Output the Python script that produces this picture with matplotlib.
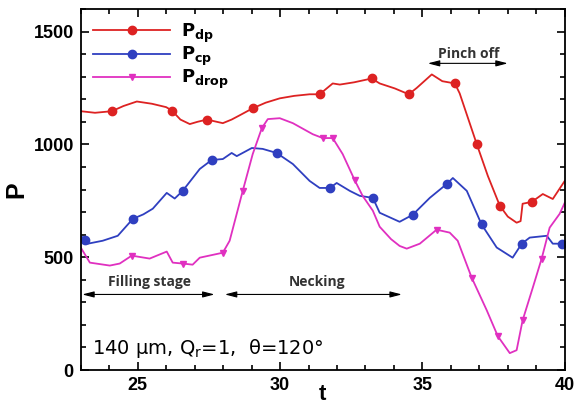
import matplotlib
matplotlib.use("Agg")
import matplotlib.pyplot as plt
from matplotlib.ticker import MultipleLocator

# P_dp (red)
t_dp = [23.0, 23.5, 24.09, 24.5, 24.97, 25.5, 26.0, 26.2, 26.5, 26.83, 27.1, 27.43, 27.99,
        28.3, 28.6, 29.04, 29.5, 29.99, 30.5, 31.04, 31.39, 31.85, 32.1, 32.6, 33.22, 33.5,
        34.03, 34.52, 34.8, 35.33, 35.7, 36.14, 36.31, 36.91, 37.3, 37.72, 38.0, 38.31, 38.45,
        38.52, 38.84, 39.23, 39.58, 40.0]
p_dp = [1147, 1140, 1147, 1170, 1190, 1180, 1165, 1150, 1110, 1090, 1100, 1110, 1094,
        1110, 1130, 1160, 1185, 1204, 1215, 1222, 1222, 1270, 1265, 1275, 1292, 1270,
        1248, 1222, 1250, 1310, 1280, 1270, 1226, 1001, 860, 728, 680, 653, 660,
        737, 745, 780, 758, 838]
mk_dp = [2, 7, 11, 15, 20, 24, 27, 31, 33, 35, 40]

# P_cp (blue)
t_cp = [23.0, 23.14, 23.25, 23.77, 24.3, 24.83, 25.2, 25.53, 26.02, 26.3, 26.58, 27.18, 27.6,
        27.99, 28.3, 28.48, 29.01, 29.39, 29.88, 30.45, 31.04, 31.39, 31.75, 31.99, 32.45,
        32.8, 33.26, 33.5, 34.2, 34.66, 35.26, 35.86, 36.07, 36.56, 37.08, 37.61, 38.17,
        38.49, 38.77, 39.37, 39.58, 39.89, 40.0]
p_cp = [595, 578, 560, 573, 595, 670, 690, 715, 785, 760, 794, 891, 931,
        935, 962, 948, 984, 980, 962, 913, 838, 807, 807, 829, 794,
        772, 763, 697, 657, 688, 763, 825, 851, 794, 645, 543, 498,
        560, 587, 595, 560, 560, 560]
mk_cp = [1, 5, 10, 12, 18, 22, 26, 29, 31, 34, 37, 41]

# P_drop (magenta)
t_drop = [23.0, 23.32, 24.02, 24.37, 24.79, 25.42, 26.02, 26.23, 26.58, 26.93, 27.18, 27.99,
          28.23, 28.69, 29.04, 29.36, 29.57, 29.99, 30.45, 31.15, 31.5, 31.85, 32.2, 32.62,
          32.9, 33.26, 33.5, 33.9, 34.2, 34.45, 34.91, 35.5, 35.96, 36.24, 36.73, 37.26,
          37.65, 38.07, 38.31, 38.52, 38.88, 39.19, 39.47, 39.82, 40.0]
p_drop = [543, 476, 463, 472, 507, 494, 525, 476, 472, 467, 498, 520,
          573, 794, 957, 1072, 1112, 1116, 1094, 1045, 1028, 1028, 957, 842,
          772, 706, 635, 580, 550, 538, 560, 622, 609, 573, 410, 265,
          150, 75, 88, 220, 366, 494, 631, 692, 741]
mk_drop = [4, 8, 11, 13, 15, 20, 21, 23, 31, 34, 36, 39, 41]

fig = plt.figure(figsize=(5.81, 4.08), dpi=100)
ax = fig.add_axes([0.139, 0.093, 0.833, 0.885])

ax.plot(t_dp, p_dp, color='#dd2222', lw=1.3, marker='o', ms=6, markevery=mk_dp,
        label=r'$\mathbf{P}_{\mathbf{dp}}$')
ax.plot(t_cp, p_cp, color='#2f3fc0', lw=1.3, marker='o', ms=6, markevery=mk_cp,
        label=r'$\mathbf{P}_{\mathbf{cp}}$')
ax.plot(t_drop, p_drop, color='#e030c0', lw=1.3, marker='v', ms=5, markevery=mk_drop,
        label=r'$\mathbf{P}_{\mathbf{drop}}$')

ax.set_xlim(23, 40)
ax.set_ylim(0, 1600)
ax.xaxis.set_major_locator(MultipleLocator(5))
ax.xaxis.set_minor_locator(MultipleLocator(1))
ax.yaxis.set_major_locator(MultipleLocator(500))
ax.yaxis.set_minor_locator(MultipleLocator(100))
ax.tick_params(which='both', direction='in', top=True, right=True, width=1.2)
ax.tick_params(which='major', length=6, labelsize=13, pad=5)
ax.tick_params(which='minor', length=3.5)
for lab in ax.get_xticklabels() + ax.get_yticklabels():
    lab.set_fontweight('bold')
    lab.set_family('Liberation Sans')
for s in ax.spines.values():
    s.set_linewidth(1.3)

ax.set_xlabel('t', fontsize=16, fontweight='bold', family='Liberation Sans')
ax.xaxis.set_label_coords(0.5, -0.04)
ax.set_ylabel('P', fontsize=18, fontweight='bold', family='Liberation Sans', labelpad=4)

leg = ax.legend(loc='upper left', bbox_to_anchor=(0.01, 0.985), frameon=False,
                fontsize=13, handlelength=4.3, labelspacing=0.0, handletextpad=0.6,
                borderaxespad=0)

arrow = dict(arrowstyle='<|-|>,head_length=0.7,head_width=0.18', color='black',
             lw=0.8, shrinkA=0, shrinkB=0)
ann_font = dict(fontsize=10, fontweight='bold', family='Open Sans', color='#333333',
                ha='center', va='center')
ax.annotate('', xy=(23.05, 335), xytext=(27.7, 335), arrowprops=arrow)
ax.text(25.4, 388, 'Filling stage', **ann_font)
ax.annotate('', xy=(28.06, 335), xytext=(34.28, 335), arrowprops=arrow)
ax.text(31.3, 388, 'Necking', **ann_font)
ax.annotate('', xy=(35.19, 1359), xytext=(38.0, 1359), arrowprops=arrow)
ax.text(36.63, 1402, 'Pinch off', **ann_font)

ax.text(23.4, 97, r'140 μm, Q$_\mathrm{r}$=1,  θ=120°', fontsize=14,
        ha='left', va='center')

fig.savefig('out.png', dpi=100)
